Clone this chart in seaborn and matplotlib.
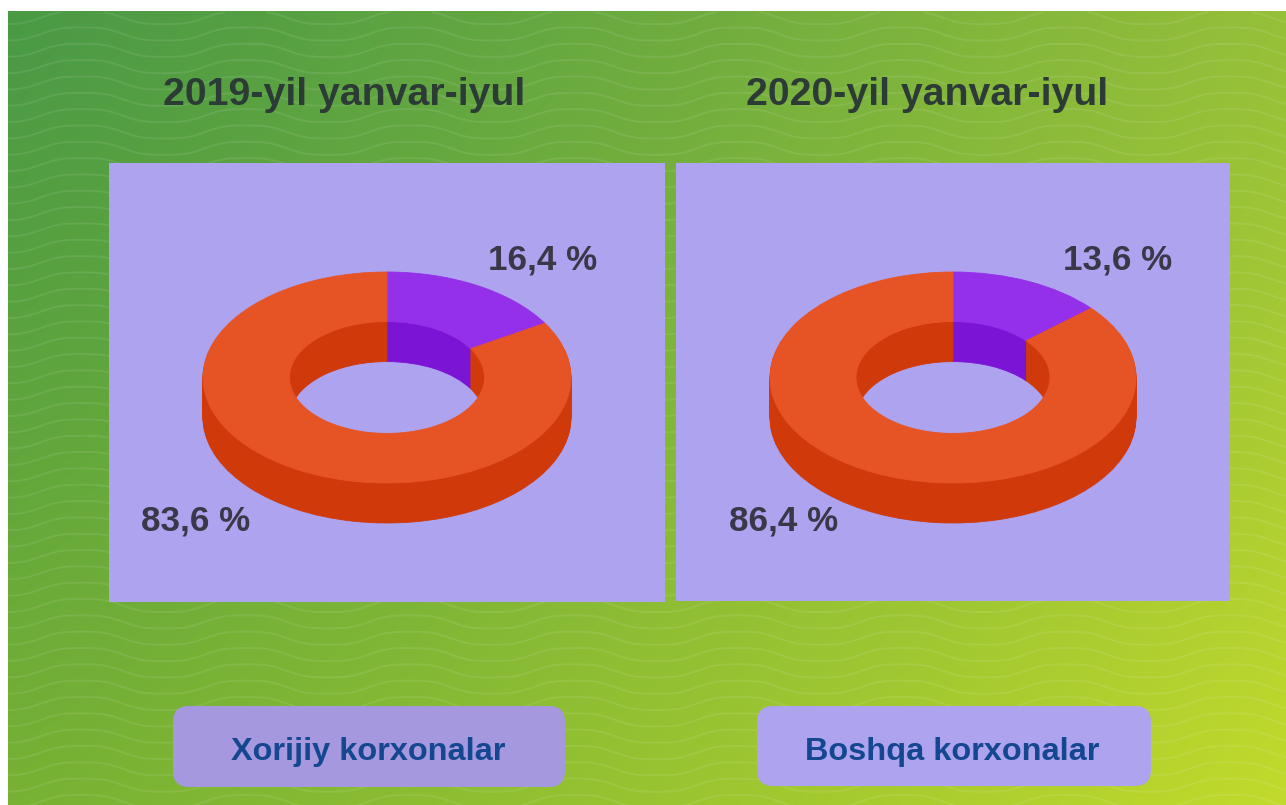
import numpy as np
import matplotlib
matplotlib.use("Agg")
import matplotlib.pyplot as plt
from matplotlib.patches import FancyBboxPatch
import seaborn as sns

# ---- data ----
titles = ["2019-yil yanvar-iyul", "2020-yil yanvar-iyul"]
categories = ["Xorijiy korxonalar", "Boshqa korxonalar"]
foreign_share = [16.4, 13.6]
other_share = [83.6, 86.4]
label_foreign = ["16,4 %", "13,6 %"]
label_other = ["83,6 %", "86,4 %"]

# ---- style ----
sns.set_theme(style="white")
plt.rcParams["font.family"] = ["Liberation Sans", "DejaVu Sans"]
top_colors = sns.color_palette(["#9530EA", "#E65425"])
side_colors = sns.color_palette(["#7B14D4", "#D03A0B"])
PANEL = "#ADA3EE"
W, H = 1286, 805
fig = plt.figure(figsize=(W / 100, H / 100), dpi=100, facecolor="white")


def rect(x0, y0, x1, y1):
    return [x0 / W, 1 - y1 / H, (x1 - x0) / W, (y1 - y0) / H]


def hex3(s):
    return np.array([int(s[i:i + 2], 16) for i in (1, 3, 5)]) / 255


# backdrop in pixel coordinates
bg = fig.add_axes([0, 0, 1, 1], zorder=0)
gx, gy = np.meshgrid(np.linspace(0, 1, 200), np.linspace(0, 1, 200))
gx, gy = (gx ** 1.15)[..., None], (gy ** 1.15)[..., None]
grad = ((1 - gx) * (1 - gy) * hex3("#4A9A45") + gx * (1 - gy) * hex3("#96C039")
        + (1 - gx) * gy * hex3("#78B234") + gx * gy * hex3("#C2DA2C"))
bg.imshow(grad, extent=(8, W, H, 12), aspect="auto", zorder=0, interpolation="bilinear")
bg.set_xlim(0, W)
bg.set_ylim(H, 0)
bg.axis("off")
xs = np.arange(8, W + 1, 2.0)
AMP = 6.5
for row in np.arange(34 - 16.33 * 2, H + 20, 16.33):
    th = 2 * np.pi * (xs - 82) / 164
    ys = row - AMP * (np.cos(th) - 0.1 * np.cos(3 * th)) / 0.9
    ys = np.where(ys < 12, np.nan, ys)
    bg.plot(xs, ys, color="white", alpha=0.085, lw=1.4, zorder=1)

# buttons
for (x0, y0, x1, y1), col, name, cx in zip(
    [(173, 706, 565, 787), (757, 706, 1151, 786)],
    ["#A598DE", PANEL], categories, [368.5, 952],
):
    r = 16
    bg.add_patch(FancyBboxPatch((x0 + r, y0 + r), x1 - x0 - 2 * r, y1 - y0 - 2 * r,
                                boxstyle=f"round,pad={r},rounding_size={r}",
                                fc=col, ec="none", zorder=2))
    bg.text(cx, 752, name, ha="center", va="center", fontsize=23.4,
            fontweight="bold", color="#14478F", zorder=3)

# panels with donuts
panels = [(109, 163, 665, 602), (676, 163, 1230, 601)]
centres = [387, 953]
radius_x = [184, 183]
RY = 105.5
DEPTH = 40
HOLE = 0.47


def ring(ax, values, colors, shift):
    wedges, _ = ax.pie(values, colors=colors, startangle=90, counterclock=False, radius=1,
                       center=(0, shift), frame=True, wedgeprops=dict(width=HOLE))
    for w in wedges:
        w.set_edgecolor(w.get_facecolor())
        w.set_linewidth(0.6)


for i, (x0, y0, x1, y1) in enumerate(panels):
    ax = fig.add_axes(rect(x0, y0, x1, y1), zorder=1, facecolor=PANEL)
    values = [foreign_share[i], other_share[i]]
    for z in np.arange(DEPTH, 0, -1.0):
        ring(ax, values, side_colors, -z / RY)
    ring(ax, values, top_colors, 0)
    ax.set_aspect("auto")
    rx = radius_x[i]
    ax.set_xlim((x0 - centres[i]) / rx, (x1 - centres[i]) / rx)
    ax.set_ylim((377.5 - y1) / RY, (377.5 - y0) / RY)
    ax.set_xticks([])
    ax.set_yticks([])
    for s in ax.spines.values():
        s.set_visible(False)

# texts
for x, txt in zip([344, 927], titles):
    fig.text(x / W, 1 - 95 / H, txt, ha="center", va="center", fontsize=28.3,
             fontweight="bold", color="#2C3B36", zorder=5)
for x, y, txt in zip([542.5, 1117.5], [260, 260], label_foreign):
    fig.text(x / W, 1 - y / H, txt, ha="center", va="center", fontsize=25.2,
             fontweight="bold", color="#3A3748", zorder=5)
for x, y, txt in zip([196, 783.5], [521, 521], label_other):
    fig.text(x / W, 1 - y / H, txt, ha="center", va="center", fontsize=25.2,
             fontweight="bold", color="#3A3748", zorder=5)

fig.savefig("out.png", dpi=100)
